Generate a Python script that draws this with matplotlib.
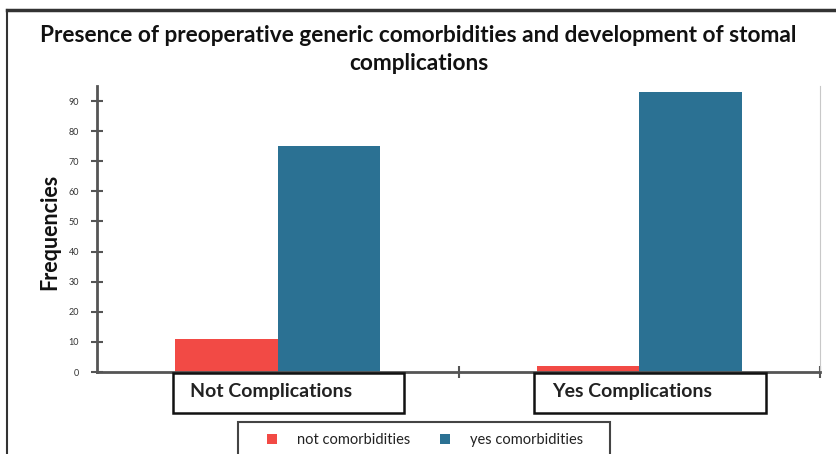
import matplotlib.pyplot as plt
import numpy as np
from matplotlib.lines import Line2D
from matplotlib.patches import Rectangle
from matplotlib.transforms import blended_transform_factory

plt.rcParams['font.family'] = ['Lato', 'DejaVu Sans']

# Frequencies per complication group
categories = ["Not Complications", "Yes Complications"]
not_comorbidities = [11, 2]
yes_comorbidities = [75, 93]
series_labels = ["not comorbidities", "yes comorbidities"]
yticks = list(range(0, 100, 10))

red = "#f24a45"
blue = "#2b7193"
axis_col = "#555555"

fig = plt.figure(figsize=(8.37, 4.54), dpi=100)
ax = fig.add_axes([97 / 837, 1 - 372 / 454, (820 - 97) / 837, (372 - 86) / 454])

centers = np.arange(len(categories)) + 0.5
w = 0.283
b1 = ax.bar(centers - w / 2, not_comorbidities, width=w, color=red, label=series_labels[0])
b2 = ax.bar(centers + w / 2, yes_comorbidities, width=w, color=blue, label=series_labels[1])

ax.set_xlim(0, 2)
ax.set_ylim(0, 95)
ax.set_yticks(yticks)
ax.set_xticks([1, 2])
ax.set_xticklabels([])
ax.tick_params(axis='y', direction='inout', length=8, width=1.5, color=axis_col,
               labelsize=6.5, labelcolor="#333333", pad=9)
ax.tick_params(axis='x', direction='inout', length=8, width=1.5, color=axis_col)

for s in ['left', 'bottom']:
    ax.spines[s].set_color(axis_col)
    ax.spines[s].set_linewidth(2)
ax.spines['top'].set_visible(False)
ax.spines['right'].set_color("#c8c8c8")
ax.spines['right'].set_linewidth(0.8)

ax.set_ylabel("Frequencies", fontsize=15.5, fontweight='bold', color="#111111")
ax.yaxis.set_label_coords(-37 / 723, 0.49)

# Category labels in boxes under the axis
trans = blended_transform_factory(ax.transData, fig.transFigure)
for c, name in zip(centers, categories):
    left, right = c - 0.29, c + 0.35
    ax.add_patch(Rectangle((left, 1 - 413 / 454), right - left, 40 / 454,
                           transform=trans, facecolor="white", edgecolor="#111111",
                           linewidth=1.8, clip_on=False, zorder=5))
    ax.text(left + 0.048, 1 - 392 / 454, name, transform=trans, fontsize=14,
            fontweight='bold', color="#222222", va='center', ha='left', zorder=6)

fig.suptitle("Presence of preoperative generic comorbidities and development of stomal\ncomplications",
             x=0.5, y=1 - 25 / 454, fontsize=16.3, fontweight='bold', color="#111111",
             va='top', linespacing=1.4)

# Outer frame lines
fig.add_artist(Line2D([7 / 837, 1], [1 - 10 / 454, 1 - 10 / 454], color="#333333", lw=2.5))
fig.add_artist(Line2D([7 / 837, 7 / 837], [0, 1 - 10 / 454], color="#333333", lw=1.5))

# Legend box, cut by the bottom edge
fig.add_artist(Rectangle((238 / 837, -0.05), (610 - 238) / 837, 0.05 + 1 - 422 / 454,
                         transform=fig.transFigure, fill=False, edgecolor="#444444", lw=1.5))
fig.legend(handles=[b1, b2], labels=series_labels, loc='center',
           bbox_to_anchor=(425 / 837, 1 - 440 / 454), ncol=2, frameon=False,
           fontsize=10.5, labelcolor="#222222", handlelength=0.7, handleheight=0.75,
           columnspacing=2.05, handletextpad=1.37)

fig.savefig("out.png", dpi=100)
